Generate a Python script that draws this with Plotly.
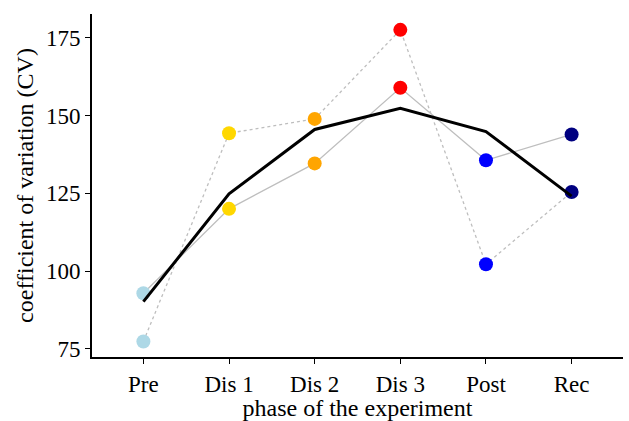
import plotly.graph_objects as go

phases = ["Pre", "Dis 1", "Dis 2", "Dis 3", "Post", "Rec"]
phase_colors = ["lightblue", "gold", "orange", "red", "blue", "navy"]
subject_a = [92.9, 120.0, 134.6, 158.9, 135.6, 143.9]
subject_b = [77.4, 144.3, 148.9, 177.5, 102.2, 125.4]
mean_cv = [90.2, 124.8, 145.5, 152.3, 144.8, 124.1]
y_ticks = [75, 100, 125, 150, 175]

x = list(range(len(phases)))
fig = go.Figure()
fig.add_trace(go.Scatter(x=x, y=subject_a, mode="lines",
                         line=dict(color="#bebebe", width=1.3), showlegend=False))
fig.add_trace(go.Scatter(x=x, y=subject_b, mode="lines",
                         line=dict(color="#bebebe", width=1.3, dash="dot"), showlegend=False))
fig.add_trace(go.Scatter(x=x, y=subject_a, mode="markers",
                         marker=dict(color=phase_colors, size=14, line=dict(width=0)), showlegend=False))
fig.add_trace(go.Scatter(x=x, y=subject_b, mode="markers",
                         marker=dict(color=phase_colors, size=14, line=dict(width=0)), showlegend=False))
fig.add_trace(go.Scatter(x=x, y=mean_cv, mode="lines",
                         line=dict(color="black", width=3), showlegend=False))

fam = "Liberation Serif, Times New Roman, serif"
font = dict(family=fam, size=20, color="black")
tickfont = dict(family=fam, size=23, color="black")
fig.update_layout(
    width=629, height=421,
    margin=dict(l=92, r=6, t=14, b=62),
    plot_bgcolor="white", paper_bgcolor="white",
    font=font,
    xaxis=dict(range=[-0.6, 5.6], tickvals=x, ticktext=phases, tickfont=tickfont,
               showline=True, linecolor="black", linewidth=2,
               ticks="outside", ticklen=5, tickcolor="black", tickwidth=1,
               showgrid=False, zeroline=False,
               title=dict(text="phase of the experiment", standoff=2)),
    yaxis=dict(range=[72.4, 182.6], tickvals=y_ticks, tickfont=tickfont,
               showline=True, linecolor="black", linewidth=2,
               ticks="outside", ticklen=5, tickcolor="black", tickwidth=1,
               showgrid=False, zeroline=False,
               title=dict(text="coefficient of variation (CV)", standoff=6)),
)
fig.write_html("out.html", config={"displayModeBar": False},
               post_script="document.body.style.margin='0px';")
